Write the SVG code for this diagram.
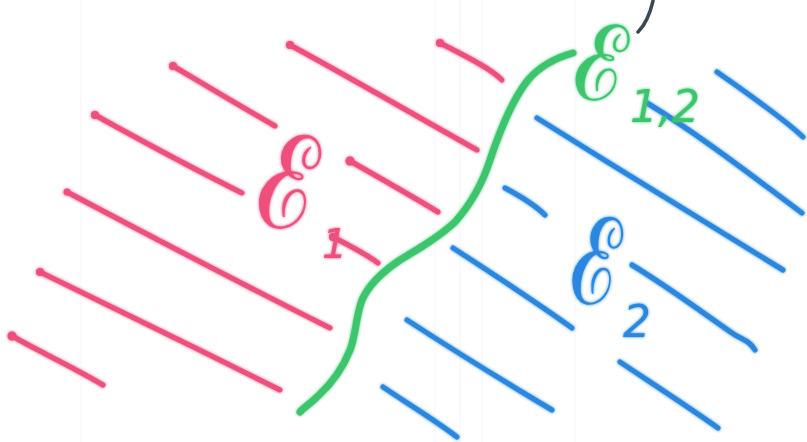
<svg xmlns="http://www.w3.org/2000/svg" width="807" height="442" viewBox="0 0 807 442">
  <defs>
    <filter id="glow" x="-10%" y="-10%" width="120%" height="120%">
      <feGaussianBlur in="SourceGraphic" stdDeviation="1.6" result="b"/>
      <feMerge><feMergeNode in="b"/><feMergeNode in="SourceGraphic"/></feMerge>
    </filter>
  </defs>
  <style>
    .red { fill: none; stroke: #ee4f7c; stroke-width: 5; stroke-linecap: round; stroke-linejoin: round; }
    .blue { fill: none; stroke: #2b87e0; stroke-width: 5; stroke-linecap: round; stroke-linejoin: round; }
    .green { fill: none; stroke: #3cc56e; stroke-width: 7; stroke-linecap: round; stroke-linejoin: round; }
    .dot { fill: #ee4f7c; }
    .lbl { font-family: "DejaVu Serif", "Liberation Serif", serif; }
    .sub { font-family: "DejaVu Sans", "Liberation Sans", sans-serif; font-style: italic; }
  </style>
  <rect width="807" height="442" fill="#ffffff"/>
  <g opacity="0.25" stroke="#d8d8e8" stroke-width="1">
    <line x1="81" y1="0" x2="81" y2="442"/>
    <line x1="435" y1="0" x2="435" y2="442"/>
    <line x1="460" y1="0" x2="460" y2="442"/>
    <line x1="482" y1="0" x2="482" y2="442"/>
    <line x1="575" y1="0" x2="575" y2="442"/>
  </g>

  <g id="red-hatching" filter="url(#glow)">
    <path class="red" d="M173,66 C200,82 240,106 275,126"/>
    <path class="red" d="M290,45 C340,72 420,118 477,150"/>
    <path class="red" d="M440,43 C465,56 490,68 502,80"/>
    <path class="red" d="M95,115 C140,140 200,172 242,193"/>
    <path class="red" d="M350,161 C380,178 415,198 438,212"/>
    <path class="red" d="M67,192 C150,236 250,288 330,328"/>
    <path class="red" d="M40,272 C110,306 200,350 280,390"/>
    <path class="red" d="M12,336 C40,352 75,368 103,385"/>
    <path class="red" d="M333,237 C350,246 366,254 378,263"/>
    <circle class="dot" cx="173" cy="66" r="4"/>
    <circle class="dot" cx="290" cy="45" r="4"/>
    <circle class="dot" cx="440" cy="43" r="4"/>
    <circle class="dot" cx="95" cy="115" r="4"/>
    <circle class="dot" cx="350" cy="161" r="4.5"/>
    <circle class="dot" cx="67" cy="192" r="3.5"/>
    <circle class="dot" cx="40" cy="272" r="4"/>
    <circle class="dot" cx="12" cy="336" r="4.5"/>
    <circle class="dot" cx="333" cy="237" r="4"/>
  </g>

  <g id="blue-hatching" filter="url(#glow)">
    <path class="blue" d="M717,72 C750,95 785,120 803,137"/>
    <path class="blue" d="M537,118 C620,170 710,225 783,270"/>
    <path class="blue" d="M647,103 C700,135 760,182 802,213"/>
    <path class="blue" d="M505,188 C520,196 535,205 545,215"/>
    <path class="blue" d="M453,248 C490,272 540,305 572,328"/>
    <path class="blue" d="M407,320 C450,348 510,385 552,410"/>
    <path class="blue" d="M383,387 C405,402 435,420 457,437"/>
    <path class="blue" d="M632,265 C670,288 710,318 735,335 C745,340 750,342 755,350"/>
    <path class="blue" d="M620,362 C650,382 690,408 718,428"/>
  </g>

  <g id="boundary" filter="url(#glow)">
    <path class="green" d="M573,53 C555,58 540,66 528,80 C512,100 500,130 490,160 C482,185 470,205 455,222 C440,236 420,248 400,260 C385,270 370,282 362,300 C356,315 356,335 350,350 C343,368 330,385 318,396 C310,404 303,408 300,412"/>
  </g>

  <g id="mark">
    <path d="M638,32 C644,26 650,14 653,1" fill="none" stroke="#3b4853" stroke-width="3.5" stroke-linecap="round"/>
  </g>

  <g id="label-E1" filter="url(#glow)" fill="#ee4f7c">
    <text class="lbl" x="256" y="228" font-size="128" textLength="64" lengthAdjust="spacingAndGlyphs">ℰ</text>
    <text class="sub" x="322" y="258" font-size="40">1</text>
  </g>

  <g id="label-E12" filter="url(#glow)" fill="#3cc56e">
    <text class="lbl" x="573" y="100" font-size="104" textLength="56" lengthAdjust="spacingAndGlyphs">ℰ</text>
    <text class="sub" x="630" y="122" font-size="44">1,2</text>
  </g>

  <g id="label-E2" filter="url(#glow)" fill="#2b87e0">
    <text class="lbl" x="570" y="304" font-size="120" textLength="52" lengthAdjust="spacingAndGlyphs">ℰ</text>
    <text class="sub" x="623" y="337" font-size="44">2</text>
  </g>
</svg>
